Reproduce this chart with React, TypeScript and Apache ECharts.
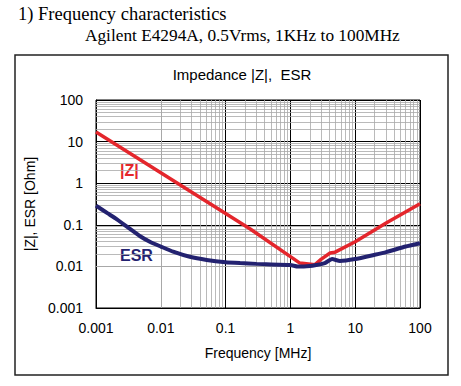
import React, { useEffect, useRef } from "react";
import * as echarts from "echarts";

const freqZ = [0.001, 0.24, 1.4, 2.4, 3, 4.1, 4.9, 10, 30, 100];
const valZ = [17, 0.079, 0.012, 0.011, 0.015, 0.021, 0.022, 0.039, 0.11, 0.32];

const freqESR = [0.001, 0.0015, 0.002, 0.003, 0.0048, 0.007, 0.01, 0.0155, 0.028, 0.051, 0.1, 0.167, 0.3, 1, 1.3, 2, 2.5, 3.4, 4.4, 5.8, 10, 20, 30, 60, 100];
const valESR = [0.29, 0.19, 0.142, 0.09, 0.053, 0.038, 0.03, 0.0226, 0.017, 0.0143, 0.0126, 0.012, 0.0115, 0.0108, 0.0099, 0.0102, 0.0108, 0.012, 0.015, 0.0135, 0.015, 0.019, 0.022, 0.03, 0.036];

const xTickLabels = ["0.001", "0.01", "0.1", "1", "10", "100"];
const yTickLabels = ["0.001", "0.01", "0.1", "1", "10", "100"];
const decades = [-3, -2, -1, 0, 1];
const minorSteps = [2, 3, 4, 5, 6, 7, 8, 9];

const RED = "#e4262c";
const NAVY = "#232270";

export default function App() {
  const ref = useRef<HTMLDivElement>(null);
  useEffect(() => {
    if (!ref.current) return;
    const chart = echarts.init(ref.current, null, { renderer: "svg" });
    const minorVals: number[] = [];
    decades.forEach((d) => minorSteps.forEach((m) => minorVals.push(m * Math.pow(10, d))));
    const labelFor = (arr: string[]) => (v: number) => {
      const e = Math.round(Math.log10(v));
      return arr[e + 3] ?? "";
    };
    chart.setOption({
      animation: false,
      backgroundColor: "#fff",
      textStyle: { fontFamily: "Liberation Sans, Arial, sans-serif" },
      grid: { left: 96, top: 100, width: 324, height: 208, show: true, borderColor: "#000", borderWidth: 1 },
      xAxis: {
        type: "log",
        logBase: 10,
        min: 0.001,
        max: 100,
        axisLine: { show: true, lineStyle: { color: "#000", width: 1 } },
        axisTick: { show: false },
        axisLabel: { formatter: labelFor(xTickLabels), color: "#000", fontSize: 14, margin: 13 },
        splitLine: { show: true, lineStyle: { color: "#000", width: 1 } },
        name: "Frequency [MHz]",
        nameLocation: "middle",
        nameGap: 38,
        nameTextStyle: { color: "#000", fontSize: 14 },
      },
      yAxis: {
        type: "log",
        logBase: 10,
        min: 0.001,
        max: 100,
        axisLine: { show: true, lineStyle: { color: "#000", width: 1 } },
        axisTick: { show: false },
        axisLabel: { formatter: labelFor(yTickLabels), color: "#000", fontSize: 14, margin: 13 },
        splitLine: { show: true, lineStyle: { color: "#000", width: 1 } },
        name: "|Z|, ESR [Ohm]",
        nameLocation: "middle",
        nameGap: 54,
        nameTextStyle: { color: "#000", fontSize: 14 },
      },
      graphic: [
        { type: "rect", shape: { x: 15, y: 55, width: 433, height: 320 }, style: { fill: "none", stroke: "#222", lineWidth: 1.5 }, z: -1 },
        { type: "text", x: 18, y: 4, style: { text: "1) Frequency characteristics", font: "18.5px 'Liberation Serif', serif", fill: "#000" } },
        { type: "text", x: 85, y: 27, style: { text: "Agilent E4294A, 0.5Vrms, 1KHz to 100MHz", font: "17.3px 'Liberation Serif', serif", fill: "#000" } },
        { type: "text", x: 242, y: 67, style: { text: "Impedance |Z|,  ESR", font: "15px 'Liberation Sans', Arial, sans-serif", fill: "#000", align: "center" } },
        { type: "text", x: 120, y: 162, style: { text: "|Z|", font: "bold 16px 'Liberation Sans', Arial, sans-serif", fill: RED } },
        { type: "text", x: 120, y: 247, style: { text: "ESR", font: "bold 16px 'Liberation Sans', Arial, sans-serif", fill: NAVY } },
      ],
      series: [
        {
          type: "line",
          data: [],
          silent: true,
          z: 1,
          markLine: {
            silent: true,
            z: 1,
            symbol: "none",
            label: { show: false },
            lineStyle: { color: "#a8a8a8", width: 0.8, type: "solid" },
            data: [
              ...minorVals.map((v) => ({ xAxis: v })),
              ...minorVals.map((v) => ({ yAxis: v })),
            ],
          },
        },
        {
          type: "line",
          name: "|Z|",
          data: freqZ.map((f, i) => [f, valZ[i]]),
          showSymbol: false,
          lineStyle: { color: RED, width: 3.5 },
          z: 10,
        },
        {
          type: "line",
          name: "ESR",
          data: freqESR.map((f, i) => [f, valESR[i]]),
          showSymbol: false,
          smooth: 0.15,
          lineStyle: { color: NAVY, width: 4 },
          z: 11,
        },
      ],
    });
    return () => chart.dispose();
  }, []);
  return <div ref={ref} style={{ position: "absolute", left: 0, top: 0, width: 461, height: 386 }} />;
}
